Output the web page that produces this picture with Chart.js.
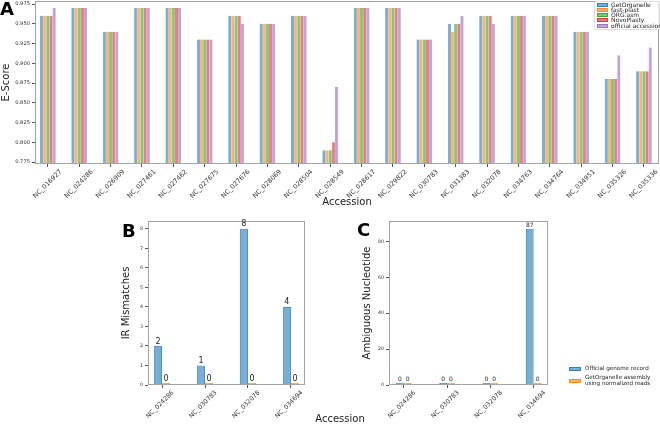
<!DOCTYPE html>
<html><head><meta charset="utf-8">
<script src="https://cdn.jsdelivr.net/npm/chart.js@4.4.0/dist/chart.umd.min.js"></script>
<style>
html,body{margin:0;padding:0;background:#fff;}
body{width:660px;height:424px;position:relative;overflow:hidden;font-family:"DejaVu Sans",sans-serif;}
canvas{position:absolute;display:block;}
.letter{position:absolute;font:bold 18px/18px "DejaVu Sans";color:#000;}
.lg{position:absolute;font-family:"DejaVu Sans";color:#222;white-space:nowrap;}
.patch{position:absolute;box-sizing:border-box;}
</style></head>
<body>
<canvas id="cA" width="660" height="210" style="left:0;top:0"></canvas>
<canvas id="cB" width="215" height="209" style="left:100px;top:215px"></canvas>
<canvas id="cC" width="330" height="209" style="left:330px;top:215px"></canvas>
<div class="letter" style="left:0;top:0">A</div>
<div class="letter" style="left:122px;top:222px">B</div>
<div class="letter" style="left:357px;top:221px">C</div>
<div id="legA"></div>
<div id="legC"></div>
<div class="lg" style="left:290px;top:413px;width:100px;text-align:center;font-size:10px;line-height:12px;color:#222">Accession</div>
<script>
// ---------- data ----------
const accessionsA = ['NC_016927','NC_024286','NC_026909','NC_027461','NC_027462','NC_027675','NC_027676','NC_028069','NC_028504','NC_028549','NC_028617','NC_029822','NC_030783','NC_031383','NC_032078','NC_034763','NC_034764','NC_034951','NC_035326','NC_035336'];
const getOrganelle = [0.96,0.97,0.94,0.97,0.97,0.93,0.96,0.95,0.96,0.79,0.97,0.97,0.93,0.95,0.96,0.96,0.96,0.94,0.88,0.89];
const fastPlast    = [0.96,0.97,0.94,0.97,0.97,0.93,0.96,0.95,0.96,0.79,0.97,0.97,0.93,0.94,0.96,0.96,0.96,0.94,0.88,0.89];
const orgAsm       = [0.96,0.97,0.94,0.97,0.97,0.93,0.96,0.95,0.96,0.79,0.97,0.97,0.93,0.95,0.96,0.96,0.96,0.94,0.88,0.89];
const novoPlasty   = [0.96,0.97,0.94,0.97,0.97,0.93,0.96,0.95,0.96,0.80,0.97,0.97,0.93,0.95,0.96,0.96,0.96,0.94,0.88,0.89];
const officialAcc  = [0.97,0.97,0.94,0.97,0.97,0.93,0.95,0.95,0.96,0.87,0.97,0.97,0.93,0.96,0.95,0.96,0.96,0.94,0.91,0.92];
const seriesNamesA = ['GetOrganelle','fast-plast','ORG.asm','NovoPlasty','official accession'];

const accessionsBC = ['NC_024286','NC_030783','NC_032078','NC_034694'];
const irOfficial   = [2,1,8,4];
const irGetOrg     = [0,0,0,0];
const ambOfficial  = [0,0,0,87];
const ambGetOrg    = [0,0,0,0];
const seriesNamesBC = ['Official genome record','GetOrganelle assembly\nusing normalized reads'];

// ---------- style ----------
const RGB = [[31,119,180],[255,127,14],[44,160,44],[214,39,40],[148,103,189]];
const fill = c => `rgba(${c[0]},${c[1]},${c[2]},0.6)`;
const edge = c => `rgba(${c[0]},${c[1]},${c[2]},0.8)`;
Chart.defaults.font.family = 'DejaVu Sans';
Chart.defaults.color = '#333';

const framePlugin = {
  id:'frame',
  afterDatasetsDraw(chart){
    const {ctx, chartArea:a} = chart;
    ctx.save(); ctx.strokeStyle='#a3a3a3'; ctx.lineWidth=1;
    const l=Math.round(a.left)+0.5, t=Math.round(a.top)+0.5, r=Math.round(a.right)-0.5, b=Math.round(a.bottom)-0.5;
    ctx.strokeRect(l,t,r-l,b-t); ctx.restore();
  }
};
const valueLabels = {
  id:'valueLabels',
  afterDatasetsDraw(chart, args, opts){
    if(!opts || !opts.show) return;
    const ctx=chart.ctx; ctx.save();
    ctx.font = opts.size+'px "DejaVu Sans"'; ctx.fillStyle='#222'; ctx.textAlign='center'; ctx.textBaseline='bottom';
    chart.data.datasets.forEach((ds,di)=>{
      chart.getDatasetMeta(di).data.forEach((el,i)=>{ ctx.fillText(String(ds.data[i].y), el.x, el.y - 0.5); });
    });
    ctx.restore();
  }
};

function tickGrid(){ return {display:true, drawOnChartArea:false, drawTicks:true, tickLength:3, color:'#555', offset:false}; }

function makeChart(id, cfg){
  const sA = cfg.series;
  return new Chart(document.getElementById(id), {
    type:'bar',
    data:{ datasets: sA.map((s,k)=>({
      label:s.name, data:s.values.map((v,i)=>({x:i,y:v})),
      backgroundColor:fill(RGB[k]), borderColor:edge(RGB[k]), borderWidth:cfg.bw,
      categoryPercentage:cfg.catPct, barPercentage:1, minBarLength:cfg.minBar||0
    }))},
    options:{
      responsive:false, animation:false, events:[],
      layout:{padding:cfg.pad},
      plugins:{legend:{display:false}, tooltip:{enabled:false}, valueLabels:{show:!!cfg.labelSize, size:cfg.labelSize}},
      scales:{
        x:{ type:'linear', min:cfg.xmin, max:cfg.xmax, offset:false,
          grid:tickGrid(), border:{display:false},
          ticks:{stepSize:1, includeBounds:false, maxTicksLimit:40, autoSkip:false, minRotation:45, maxRotation:45,
                 labelOffset:cfg.labelOffset, padding:1, font:{size:cfg.xFont}, color:'#333',
                 callback:v=>cfg.cats[v] ?? ''},
          title:{display:!!cfg.xTitle, text:cfg.xTitle||'', font:{size:10}, color:'#222', padding:{top:0,bottom:2}},
          afterFit(s){ s.height=cfg.xH; s.paddingLeft=0; s.paddingRight=0; }
        },
        y:{ min:cfg.ymin, max:cfg.ymax,
          grid:tickGrid(), border:{display:false},
          ticks:{stepSize:cfg.ystep, includeBounds:false, maxTicksLimit:40, padding:2, font:{size:cfg.yFont}, color:'#333',
                 callback:cfg.yFmt},
          title:{display:true, text:cfg.yTitle, font:{size:10}, color:'#222', padding:{top:cfg.yTitlePad,bottom:0}},
          afterFit(s){ s.width=cfg.yW; s.paddingTop=0; s.paddingBottom=0; }
        }
      }
    },
    plugins:[framePlugin, valueLabels]
  });
}

makeChart('cA', {
  cats:accessionsA,
  series:[getOrganelle,fastPlast,orgAsm,novoPlasty,officialAcc].map((v,k)=>({name:seriesNamesA[k], values:v})),
  bw:0.5, catPct:0.5, pad:{left:0,right:1,top:1,bottom:0},
  xmin:-0.41, xmax:19.48, labelOffset:13, xFont:6.5, xTitle:'Accession', xH:46,
  ymin:0.7725, ymax:0.9788, ystep:0.025, yFont:5.2, yFmt:v=>v.toFixed(3), yTitle:'E-Score', yTitlePad:0, yW:35
});
makeChart('cB', {
  cats:accessionsBC,
  series:[irOfficial,irGetOrg].map((v,k)=>({name:seriesNamesBC[k], values:v})),
  bw:1, catPct:0.38, minBar:2, labelSize:8, pad:{left:0,right:10,top:6,bottom:0},
  xmin:-0.326, xmax:3.326, labelOffset:11, xFont:6.3, xTitle:'', xH:39,
  ymin:0, ymax:8.4, ystep:1, yFont:4.8, yFmt:v=>String(v), yTitle:'IR Mismatches', yTitlePad:20, yW:48
});
makeChart('cC', {
  cats:accessionsBC,
  series:[ambOfficial,ambGetOrg].map((v,k)=>({name:seriesNamesBC[k], values:v})),
  bw:1, catPct:0.36, minBar:2, labelSize:6, pad:{left:0,right:112,top:6,bottom:0},
  xmin:-0.34, xmax:3.33, labelOffset:11, xFont:6.3, xTitle:'', xH:39,
  ymin:0, ymax:91.35, ystep:20, yFont:4.8, yFmt:v=>String(v), yTitle:'Ambiguous Nucleotide', yTitlePad:31, yW:59
});

// ---------- HTML legends ----------
function legend(el, items, o){
  el.innerHTML = '';
  if(o.box){ const b=document.createElement('div'); b.style.cssText=`position:absolute;left:${o.box[0]}px;top:${o.box[1]}px;width:${o.box[2]}px;height:${o.box[3]}px;border:1px solid #dcdcdc;border-radius:2px;background:rgba(255,255,255,0.8);box-sizing:border-box`; el.appendChild(b); }
  items.forEach((it,k)=>{
    const p=document.createElement('div'); p.className='patch';
    p.style.cssText+=`left:${o.px}px;top:${o.rows[k]-o.ph/2}px;width:${o.pw}px;height:${o.ph}px;background:${fill(RGB[k])};border:0.5px solid ${edge(RGB[k])}`;
    el.appendChild(p);
    const t=document.createElement('div'); t.className='lg';
    const lines = it.split('\n');
    t.style.cssText+=`left:${o.tx}px;top:${o.rows[k]-lines.length*o.lh/2}px;font-size:${o.fs}px;line-height:${o.lh}px`;
    t.innerHTML = lines.join('<br>');
    el.appendChild(t);
  });
}
legend(document.getElementById('legA'), seriesNamesA, {box:[594,1,66,29], px:597, pw:11, ph:4, tx:611, fs:6, lh:6, rows:[4.7,10,15.2,20.3,25.5]});
legend(document.getElementById('legC'), seriesNamesBC, {px:569, pw:12, ph:4, tx:585, fs:5.6, lh:5.2, rows:[369,380.5]});
</script>
</body></html>
